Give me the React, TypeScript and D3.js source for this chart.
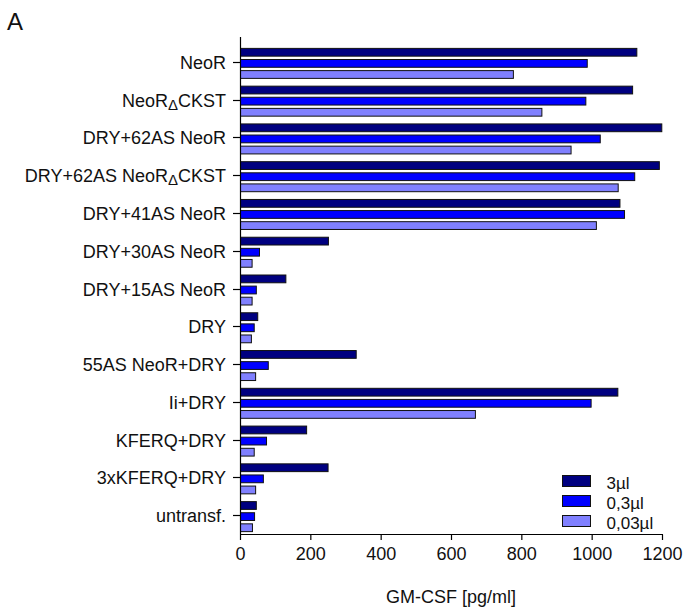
import React, { useEffect, useRef } from 'react';
import * as d3 from 'd3';

const categories = [
  'NeoR',
  'NeoR\u0394CKST',
  'DRY+62AS NeoR',
  'DRY+62AS NeoR\u0394CKST',
  'DRY+41AS NeoR',
  'DRY+30AS NeoR',
  'DRY+15AS NeoR',
  'DRY',
  '55AS NeoR+DRY',
  'Ii+DRY',
  'KFERQ+DRY',
  '3xKFERQ+DRY',
  'untransf.',
];

const seriesNames = ['3µl', '0,3µl', '0,03µl'];
const dose3 = [1127, 1115, 1198, 1191, 1079, 250, 129, 49, 329, 1073, 188, 249, 45];
const dose03 = [986, 982, 1023, 1121, 1092, 54, 45, 39, 79, 997, 74, 65, 40];
const dose003 = [776, 857, 940, 1074, 1012, 33, 33, 31, 43, 668, 39, 43, 34];
const xTicks = [0, 200, 400, 600, 800, 1000, 1200];

const colors = ['#000080', '#0000ff', '#8080ff'];

const App = () => {
  const svgRef = useRef<SVGSVGElement>(null);

  useEffect(() => {
    const svg = d3.select(svgRef.current);
    svg.selectAll('*').remove();
    const width = 684;
    const height = 610;
    const font = 'Arial, "Liberation Sans", sans-serif';

    const x = d3.scaleLinear().domain([0, 1200]).range([240.5, 662.5]);
    const y = d3.scaleBand().domain(categories).range([43, 534]);
    const sub = d3.scaleBand().domain(seriesNames).range([-13.5, 16.5]).paddingInner(0.3);

    const series = [dose3, dose03, dose003];

    svg.attr('width', width).attr('height', height).style('display', 'block')
      .style('position', 'absolute').style('left', 0).style('top', 0);

    svg.append('text')
      .attr('x', 7).attr('y', 30)
      .attr('font-family', font).attr('font-size', 24)
      .attr('fill', '#111')
      .text('A');

    // bars
    series.forEach((vals, si) => {
      svg.append('g').selectAll('rect')
        .data(vals)
        .enter()
        .append('rect')
        .attr('x', x(0))
        .attr('y', (d, i) => y(categories[i])! + y.bandwidth() / 2 + sub(seriesNames[si])!)
        .attr('width', d => x(d) - x(0))
        .attr('height', sub.bandwidth())
        .attr('fill', colors[si])
        .attr('stroke', '#111')
        .attr('stroke-width', 1);
    });

    // y axis
    const yAxis = svg.append('g');
    yAxis.append('line')
      .attr('x1', 240.5).attr('x2', 240.5).attr('y1', 37).attr('y2', 534.5)
      .attr('stroke', '#000').attr('stroke-width', 1.2);
    const yt = yAxis.selectAll('.yt')
      .data(categories)
      .enter()
      .append('g')
      .attr('class', 'yt')
      .attr('transform', d => `translate(0,${Math.round(y(d)! + y.bandwidth() / 2) + 0.5})`);
    yt.append('line')
      .attr('x1', 233).attr('x2', 240.5)
      .attr('stroke', '#000').attr('stroke-width', 1.2);
    const lab = yt.append('text')
      .attr('x', 226)
      .attr('dy', '0.35em')
      .attr('text-anchor', 'end')
      .attr('font-family', font)
      .attr('font-size', 18)
      .attr('fill', '#111');
    lab.each(function (d) {
      const t = d3.select(this);
      const parts = d.split('\u0394');
      if (parts.length === 1) {
        t.text(d);
        return;
      }
      // delta drawn smaller and lowered, like in the original figure
      t.append('tspan').text(parts[0]);
      t.append('tspan').attr('font-size', 15).attr('dy', 3).text('\u0394');
      t.append('tspan').attr('dy', -3).text(parts[1]);
    });

    // x axis
    const xAxis = svg.append('g');
    xAxis.append('line')
      .attr('x1', 240).attr('x2', 663).attr('y1', 534.5).attr('y2', 534.5)
      .attr('stroke', '#000').attr('stroke-width', 1.2);
    const xt = xAxis.selectAll('.xt')
      .data(xTicks)
      .enter()
      .append('g')
      .attr('class', 'xt')
      .attr('transform', d => `translate(${x(d)},0)`);
    xt.append('line')
      .attr('y1', 534.5).attr('y2', 540)
      .attr('stroke', '#000').attr('stroke-width', 1.2);
    xt.append('text')
      .attr('y', 560)
      .attr('text-anchor', 'middle')
      .attr('font-family', font)
      .attr('font-size', 18)
      .attr('fill', '#111')
      .text(d => String(d));

    svg.append('text')
      .attr('x', 451).attr('y', 603)
      .attr('text-anchor', 'middle')
      .attr('font-family', font)
      .attr('font-size', 18)
      .attr('fill', '#111')
      .text('GM-CSF [pg/ml]');

    // legend
    const legend = svg.append('g').selectAll('g')
      .data(seriesNames)
      .enter()
      .append('g')
      .attr('transform', (d, i) => `translate(562.5,${475.5 + i * 20})`);
    legend.append('rect')
      .attr('width', 28).attr('height', 11)
      .attr('fill', (d, i) => colors[i])
      .attr('stroke', '#111');
    legend.append('text')
      .attr('x', 44).attr('y', 13.5)
      .attr('font-family', font)
      .attr('font-size', 17)
      .attr('fill', '#111')
      .text(d => d);
  }, []);

  return <svg ref={svgRef}></svg>;
};

export default App;
